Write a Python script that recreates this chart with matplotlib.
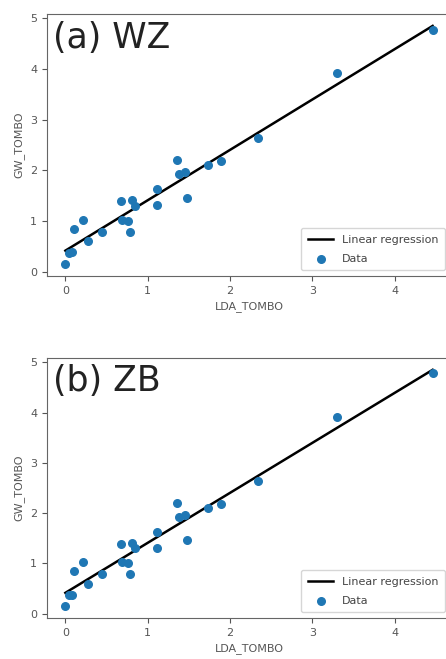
import numpy as np
import matplotlib
matplotlib.use("Agg")
import matplotlib.pyplot as plt

lda_tombo = [0.00, 0.05, 0.08, 0.10, 0.22, 0.28, 0.45, 0.67, 0.69, 0.76, 0.79,
             0.81, 0.85, 1.11, 1.11, 1.36, 1.38, 1.45, 1.48, 1.73, 1.89, 2.34,
             3.30, 4.46]
gw_tombo = [0.15, 0.37, 0.38, 0.85, 1.03, 0.60, 0.79, 1.39, 1.02, 1.00, 0.79,
            1.41, 1.30, 1.63, 1.31, 2.20, 1.92, 1.96, 1.46, 2.10, 2.19, 2.63,
            3.92, 4.78]
panel_titles = ["(a) WZ", "(b) ZB"]

plt.rcParams['font.family'] = ['DejaVu Sans']
W, H = 446, 659
fig = plt.figure(figsize=(W / 100, H / 100), dpi=100)

# axes positions in pixels: left, top, right, bottom
boxes = [(47, 14, 451, 276), (47, 358, 451, 618)]

x = np.array(lda_tombo)
y = np.array(gw_tombo)
slope, intercept = np.polyfit(x, y, 1)
order = np.argsort(x)

grey = '#555555'
for (l, t, r, b), title in zip(boxes, panel_titles):
    ax = fig.add_axes([l / W, 1 - b / H, (r - l) / W, (b - t) / H])
    ax.plot(x[order], slope * x[order] + intercept, color='black', lw=1.8,
            label='Linear regression')
    ax.scatter(x, y, color='#1f77b4', s=30, label='Data', zorder=3)
    ax.set_xlabel('LDA_TOMBO', fontsize=8, color=grey)
    ax.set_ylabel('GW_TOMBO', fontsize=8, color=grey)
    ax.tick_params(labelsize=8, colors=grey)
    for s in ax.spines.values():
        s.set_color('#666666')
    ax.set_xticks([0, 1, 2, 3, 4])
    ax.set_yticks([0, 1, 2, 3, 4, 5])
    ax.text(0.015, 0.975, title, transform=ax.transAxes, fontsize=25,
            va='top', ha='left', color='#222222')
    leg = ax.legend(loc='lower right', fontsize=8, labelspacing=0.8,
                    handlelength=2.3, borderpad=0.6)
    for txt in leg.get_texts():
        txt.set_color('#444444')

fig.savefig('out.png', dpi=100)
